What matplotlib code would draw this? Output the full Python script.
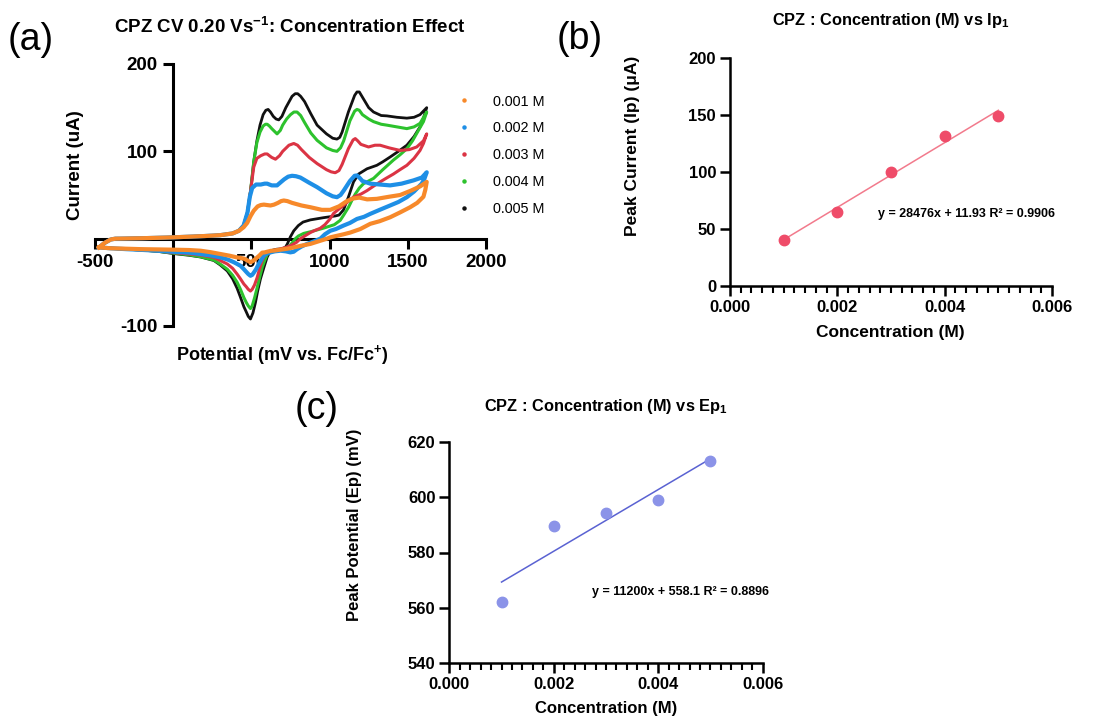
import numpy as np
import matplotlib
matplotlib.use("Agg")
import matplotlib.pyplot as plt
from matplotlib.lines import Line2D
from matplotlib.ticker import MultipleLocator

plt.rcParams['font.family'] = ['Liberation Sans', 'DejaVu Sans']
plt.rcParams['font.weight'] = 'bold'
plt.rcParams['axes.unicode_minus'] = False
plt.rcParams['mathtext.fontset'] = 'custom'
plt.rcParams['mathtext.rm'] = 'Liberation Sans:bold'
plt.rcParams['mathtext.bf'] = 'Liberation Sans:bold'
plt.rcParams['mathtext.it'] = 'Liberation Sans:bold'
plt.rcParams['mathtext.default'] = 'bf'

# ---------------- Panel (a) data: CV curves (potential mV, current uA) -------------
E_fwd_001 = [-475, -440, -400, -370, -200, 0, 200, 300, 380, 420, 450, 473, 495, 515, 540, 560, 580, 600, 622, 645,
             670, 690, 707, 730, 760, 820, 877, 950, 1004, 1060, 1110, 1150, 1190, 1240, 1302, 1380, 1451, 1520,
             1580, 1621]
I_fwd_001 = [-10, -5, -1, 0, 0.5, 1.5, 3, 4, 6, 9, 13, 18, 26, 32, 37, 38.5, 39, 38.5, 38, 39,
             41, 43, 43.7, 43, 41, 38, 36, 33, 33, 37, 43, 46, 47, 45, 45.6, 48, 50, 55,
             60, 65]
E_rev_001 = [1612, 1600, 1560, 1515, 1450, 1387, 1320, 1260, 1196, 1132, 1089, 1040, 1004, 983, 930, 877, 820, 771,
             730, 686, 650, 622, 600, 585, 569, 553, 537, 515, 494, 475, 455, 430, 409, 360, 303, 240, 175, 100, 0,
             -100, -207, -300, -400, -475]
I_rev_001 = [56, 48, 41, 36, 30, 24.5, 20, 17, 11, 7, 5, 3, 1.5, 0, -3, -6, -8, -10,
             -11.5, -12.6, -13.5, -14, -15, -15.7, -16, -19, -21.5, -25, -27, -25, -23, -22, -21.5, -19.5, -17.6,
             -15.5, -13.8, -13, -12.6, -12.3, -12, -11.5, -11, -10]

E_fwd_002 = [-475, -440, -400, -370, -200, 0, 200, 300, 380, 420, 450, 475, 490, 505, 530, 560, 585, 601, 615, 630,
             664, 690, 710, 735, 760, 785, 813, 870, 920, 980, 1020, 1047, 1070, 1090, 1130, 1160, 1175, 1190, 1210,
             1260, 1320, 1387, 1460, 1536, 1590, 1621]
I_fwd_002 = [-10, -5, -1, 0, 0.5, 1.5, 3, 4, 6, 9, 15, 30, 48, 58, 62, 62, 63, 63, 62, 61,
             61, 65, 68, 71, 72, 71.5, 70, 64, 59, 52, 48.5, 47.5, 50, 55, 66, 72, 72.4, 70, 66,
             63, 62, 61, 63, 66.7, 70, 76]
E_rev_002 = [1605, 1589, 1540, 1494, 1440, 1387, 1320, 1260, 1220, 1175, 1130, 1089, 1040, 1004, 970, 941, 900, 856,
             820, 792, 770, 749, 720, 686, 650, 622, 600, 579, 563, 547, 530, 515, 505, 494, 480, 467, 452, 430, 388,
             350, 303, 250, 175, 100, 0, -100, -207, -300, -400, -475]
I_rev_002 = [68, 63, 54, 47.5, 42, 38, 33, 28.4, 25, 22.6, 18, 15, 11, 9, 5, 0, -3, -6,
             -9, -12, -15, -15.7, -14.5, -13.8, -14.5, -15.7, -17, -19.5, -24, -29, -35, -39, -41.5, -42.5, -40.5,
             -38, -35, -31, -27, -24, -21.5, -19.5, -17.6, -16, -15, -13.8, -12.8, -12, -11, -10]

E_fwd_003 = [-475, -440, -400, -370, -200, 0, 200, 300, 380, 420, 450, 475, 495, 515, 535, 560, 585, 601, 615, 630,
             654, 680, 700, 740, 771, 795, 820, 870, 920, 980, 1010, 1036, 1060, 1080, 1120, 1150, 1164, 1180, 1200,
             1249, 1290, 1323, 1380, 1451, 1510, 1557, 1600, 1621]
I_fwd_003 = [-10, -5, -1, 0, 0.5, 1.5, 3, 4, 6, 9, 15, 30, 55, 82, 92, 95, 97, 97, 95, 93,
             91, 95, 100, 107, 109, 107, 102, 93, 86, 79, 76.5, 75.5, 78, 85, 103, 113, 114.6, 112, 108,
             105, 107, 107, 104, 101, 102, 105, 112, 120]
E_rev_003 = [1600, 1578, 1540, 1494, 1450, 1408, 1360, 1323, 1280, 1239, 1200, 1153, 1120, 1089, 1060, 1026, 1000,
             970, 941, 900, 877, 840, 813, 790, 771, 750, 728, 690, 664, 630, 601, 585, 569, 553, 537, 520, 505, 494,
             480, 467, 452, 430, 409, 380, 346, 300, 260, 175, 100, 0, -100, -207, -300, -400, -475]
I_rev_003 = [109, 101, 92, 84, 79, 74, 69, 65, 60, 55, 51, 47.5, 43, 38, 34, 29, 22,
             16, 12, 9, 7, 3, 0, -4, -6, -8, -9.6, -11.5, -12.6, -14, -16.5, -20, -25, -34, -44.5, -53, -58, -60,
             -58, -55, -52, -46, -40.6, -34, -29, -25, -21.5, -18.8, -17.5, -16, -14, -12.8, -12, -11, -10]

E_fwd_004 = [-475, -440, -400, -370, -200, 0, 200, 300, 380, 420, 450, 475, 495, 515, 535, 555, 575, 590, 601, 615,
             630, 664, 685, 700, 725, 750, 772, 792, 815, 840, 880, 920, 980, 1020, 1047, 1070, 1090, 1130, 1160,
             1175, 1190, 1210, 1250, 1281, 1330, 1366, 1430, 1494, 1540, 1578, 1621]
I_fwd_004 = [-10, -5, -1, 0, 0.5, 1.5, 3, 4, 6, 9, 15, 30, 55, 88, 110, 122, 129, 131, 131, 129,
             126, 120, 124, 130, 137, 142, 145, 145, 141, 133, 121, 112.6, 104, 101, 100, 104, 112, 135, 146,
             148, 147, 142, 137, 134, 131, 130, 128, 126, 128, 132, 145]
E_rev_004 = [1600, 1568, 1530, 1494, 1450, 1408, 1340, 1281, 1217, 1190, 1164, 1140, 1121, 1090, 1068, 1030, 960,
             880, 834, 800, 781, 760, 740, 707, 670, 643, 620, 601, 585, 569, 553, 537, 520, 505, 494, 480, 467, 452,
             430, 409, 380, 346, 300, 260, 175, 100, 0, -100, -207, -300, -400, -475]
I_rev_004 = [134, 124, 112, 103, 96, 90, 79, 69, 63, 58, 51, 43, 36, 27, 21, 16, 12,
             8, 6, 3, 0, -5, -9, -11, -13, -14, -15, -18, -25, -33, -44, -56, -68, -77, -80, -77, -73, -67.5,
             -58, -50, -42, -35, -29, -24.5, -20.7, -18.5, -16.5, -14.3, -12.8, -12, -11, -10]

E_fwd_005 = [-475, -440, -400, -370, -200, 0, 200, 300, 380, 420, 450, 475, 495, 515, 535, 555, 575, 592, 607, 622,
             640, 658, 675, 695, 720, 760, 780, 796, 815, 840, 880, 920, 980, 1020, 1047, 1065, 1080, 1120, 1160,
             1175, 1190, 1210, 1250, 1281, 1330, 1366, 1430, 1494, 1540, 1578, 1621]
I_fwd_005 = [-10, -5, -1, 0, 0.5, 1.5, 3, 4, 6, 9, 15, 30, 55, 88, 112, 130, 142, 147, 148, 145,
             140, 137, 136, 140, 150, 163, 166, 166, 163, 157, 143, 130, 120, 115, 114, 116, 122, 145, 164,
             168, 168, 162, 150, 145, 141, 140.6, 139, 138, 139, 142, 150]
E_rev_005 = [1600, 1578, 1540, 1494, 1440, 1387, 1340, 1302, 1239, 1185, 1153, 1121, 1089, 1060, 1036, 960, 877,
             830, 800, 771, 749, 730, 717, 690, 664, 640, 622, 601, 580, 558, 540, 526, 510, 494, 480, 465, 452,
             430, 409, 380, 346, 300, 260, 175, 100, 0, -100, -207, -300, -400, -475]
I_rev_005 = [138, 128, 117, 107, 100, 93.5, 88, 84, 80, 74, 65, 48, 33, 27, 26, 24, 21.5,
             19, 15, 9, 2, -6, -10, -12, -12, -13, -14, -21, -33, -46, -60, -73, -85, -92, -89, -83, -78,
             -67, -57, -46, -37, -30, -25, -21, -19, -17, -14.5, -13, -12, -11, -10]

cv_labels = ['0.001 M', '0.002 M', '0.003 M', '0.004 M', '0.005 M']
cv_colors = ['#F7892A', '#1E8FE6', '#DB3444', '#2DC22D', '#111111']

# ---------------- Panel (b) / (c) data ----------------
conc = [0.001, 0.002, 0.003, 0.004, 0.005]
ip1 = [40.3, 65.2, 100.4, 131.4, 149.5]
ep1 = [562.1, 589.6, 594.2, 599.1, 613.3]

W, H = 1103, 717
fig = plt.figure(figsize=(W / 100, H / 100), dpi=100)


def fx(px):
    return px / W


def fy(py):
    return 1 - py / H


# ================= Panel (a) =================
axa = fig.add_axes([fx(95), fy(326), fx(486) - fx(95), fy(64) - fy(326)])
axa.set_xlim(-500, 2000)
axa.set_ylim(-100, 200)

curves = [
    (E_fwd_005 + E_rev_005, I_fwd_005 + I_rev_005),
    (E_fwd_004 + E_rev_004, I_fwd_004 + I_rev_004),
    (E_fwd_003 + E_rev_003, I_fwd_003 + I_rev_003),
    (E_fwd_002 + E_rev_002, I_fwd_002 + I_rev_002),
    (E_fwd_001 + E_rev_001, I_fwd_001 + I_rev_001),
]
lws = [2.0, 2.2, 2.2, 3.0, 3.0]
for (E, I), col, lw in zip(curves, cv_colors[::-1], lws):
    axa.plot(E, I, color=col, lw=lw, solid_joinstyle='round', zorder=3)

for s in ['top', 'right']:
    axa.spines[s].set_visible(False)
axa.spines['left'].set_position(('data', 0))
axa.spines['bottom'].set_position(('data', 0))
axa.spines['left'].set_bounds(-100, 200)
axa.spines['bottom'].set_bounds(-500, 2000)
for s in ['left', 'bottom']:
    axa.spines[s].set_linewidth(2.2)
    axa.spines[s].set_zorder(2.6)
axa.set_xticks([-500, 500, 1000, 1500, 2000])
axa.set_yticks([-100, 100, 200])
axa.tick_params(axis='both', direction='out', length=7, width=2.2, labelsize=13.5, pad=4)
for lab in axa.get_xticklabels() + axa.get_yticklabels():
    lab.set_fontweight('bold')

fig.text(fx(75), fy(165), 'Current (uA)', rotation=90, ha='center', va='center', fontsize=13.5, fontweight='bold')
fig.text(fx(282), fy(355), 'Potential (mV vs. Fc/Fc$^{+}$)', ha='center', va='center', fontsize=13,
         fontweight='bold')
fig.text(fx(290), fy(27), 'CPZ CV 0.20 Vs$^{-1}$: Concentration Effect', ha='center', va='center',
         fontsize=13.5, fontweight='bold')
fig.text(fx(8), fy(40), '(a)', ha='left', va='center', fontsize=27, fontweight='normal')

handles = [Line2D([], [], ls='none', marker='o', ms=2.2, color=c) for c in cv_colors]
fig.legend(handles, cv_labels, loc='upper left', bbox_to_anchor=(fx(458), fy(94.5)), frameon=False,
           prop={'family': 'Liberation Sans', 'weight': 'normal', 'size': 10.4},
           handlelength=0.8, handletextpad=1.6, labelspacing=0.89, borderpad=0, borderaxespad=0)

# ================= Panel (b) =================
axb = fig.add_axes([fx(730), fy(285.7), fx(1052) - fx(730), fy(58.3) - fy(285.7)])
axb.set_xlim(0, 0.006)
axb.set_ylim(0, 200)
cb = np.polyfit(conc, ip1, 1)
xs = np.array([conc[0], conc[-1]])
axb.plot(xs, np.polyval(cb, xs), color='#F27A8C', lw=1.1, zorder=2)
axb.plot(conc, ip1, 'o', color='#EF4C69', ms=7.5, zorder=3)

# ================= Panel (c) =================
axc = fig.add_axes([fx(449.3), fy(662.7), fx(762.7) - fx(449.3), fy(442.3) - fy(662.7)])
axc.set_xlim(0, 0.006)
axc.set_ylim(540, 620)
cc = np.polyfit(conc, ep1, 1)
axc.plot(xs, np.polyval(cc, xs), color='#5A62D2', lw=1.1, zorder=2)
axc.plot(conc, ep1, 'o', color='#8B93E8', ms=7.5, zorder=3)
axc.set_yticks([540, 560, 580, 600, 620])
axb.set_yticks([0, 50, 100, 150, 200])

for ax in (axb, axc):
    for s in ['top', 'right']:
        ax.spines[s].set_visible(False)
    for s in ['left', 'bottom']:
        ax.spines[s].set_linewidth(1.8)
    ax.set_xticks([0, 0.002, 0.004, 0.006])
    ax.set_xticklabels(['0.000', '0.002', '0.004', '0.006'])
    ax.xaxis.set_minor_locator(MultipleLocator(0.0002))
    ax.tick_params(axis='both', which='major', direction='out', length=7, width=1.8, labelsize=12, pad=3)
    ax.tick_params(axis='x', which='minor', direction='out', length=5, width=1.5)
    for lab in ax.get_xticklabels() + ax.get_yticklabels():
        lab.set_fontweight('bold')

fig.text(fx(891), fy(20), 'CPZ : Concentration (M) vs Ip$_{1}$', ha='center', va='center', fontsize=11.8,
         fontweight='bold')
fig.text(fx(633), fy(146), 'Peak Current (Ip) (μA)', rotation=90, ha='center', va='center', fontsize=12.5,
         fontweight='bold')
fig.text(fx(890), fy(333), 'Concentration (M)', ha='center', va='center', fontsize=12.5, fontweight='bold')
fig.text(fx(878), fy(214), 'y = 28476x + 11.93 R² = 0.9906', ha='left', va='center', fontsize=9,
         fontweight='bold')
fig.text(fx(557), fy(39), '(b)', ha='left', va='center', fontsize=27, fontweight='normal')

fig.text(fx(606), fy(406), 'CPZ : Concentration (M) vs Ep$_{1}$', ha='center', va='center', fontsize=11.8,
         fontweight='bold')
fig.text(fx(354), fy(525), 'Peak Potential (Ep) (mV)', rotation=90, ha='center', va='center', fontsize=12,
         fontweight='bold')
fig.text(fx(606), fy(708), 'Concentration (M)', ha='center', va='center', fontsize=12, fontweight='bold')
fig.text(fx(592), fy(592), 'y = 11200x + 558.1 R² = 0.8896', ha='left', va='center', fontsize=9,
         fontweight='bold')
fig.text(fx(295), fy(409), '(c)', ha='left', va='center', fontsize=27, fontweight='normal')

fig.savefig('out.png', dpi=100)
